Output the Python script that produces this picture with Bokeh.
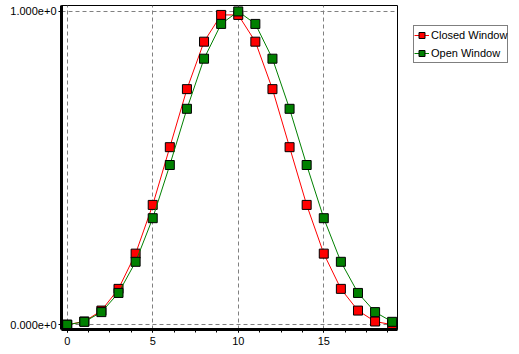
from bokeh.plotting import figure
from bokeh.models import Range1d, SingleIntervalTicker, Legend, LegendItem
from bokeh.embed import file_html
from bokeh.resources import INLINE

# ---- data ----
x_vals = list(range(20))
closed_window = [0.0, 0.0102, 0.0451, 0.1144, 0.2269, 0.3824, 0.5667, 0.7520, 0.9035, 0.9889,
                 0.9889, 0.9035, 0.7520, 0.5667, 0.3824, 0.2269, 0.1144, 0.0451, 0.0102, 0.0]
open_window = [0.0, 0.0092, 0.0402, 0.1014, 0.2008, 0.3400, 0.5098, 0.6892, 0.8492, 0.9602,
               1.0, 0.9602, 0.8492, 0.6892, 0.5098, 0.3400, 0.2008, 0.1014, 0.0402, 0.0092]
series_names = ["Closed Window", "Open Window"]
y_tick_values = [0, 1]
y_tick_labels = ["0.000e+0", "1.000e+0"]

FONT = "Liberation Sans"

p = figure(frame_width=336, frame_height=324, output_backend="svg", toolbar_location=None,
           x_range=Range1d(-0.333, 19.31), y_range=Range1d(-0.0153, 1.019),
           min_border_left=61, min_border_right=122, min_border_top=5, min_border_bottom=25,
           background_fill_color="white", border_fill_color="white")

p.outline_line_color = "black"
p.outline_line_width = 1

# axes
p.xaxis.ticker = SingleIntervalTicker(interval=5, num_minor_ticks=4)
p.yaxis.ticker = SingleIntervalTicker(interval=1, num_minor_ticks=2)
p.yaxis.major_label_overrides = {v: l for v, l in zip(y_tick_values, y_tick_labels)}
for ax in (p.xaxis, p.yaxis):
    ax.axis_line_color = "black"
    ax.axis_line_width = 3
    ax.major_tick_line_color = "black"
    ax.minor_tick_line_color = "black"
    ax.major_tick_in = 0
    ax.minor_tick_in = 0
    ax.major_label_text_font = FONT
    ax.major_label_text_font_size = "11px"
    ax.major_label_text_color = "black"
p.xaxis.major_tick_out = 3
p.xaxis.minor_tick_out = 3
p.xaxis.major_label_standoff = 4
p.yaxis.major_tick_out = 3
p.yaxis.minor_tick_out = 1
p.yaxis.major_label_standoff = 2

for g in (p.xgrid, p.ygrid):
    g.grid_line_color = "#808080"
    g.grid_line_dash = "4 3"
    g.grid_line_width = 1
p.xgrid.ticker = p.xaxis.ticker
p.ygrid.ticker = p.yaxis.ticker

# series
r1l = p.line(x_vals, closed_window, line_color="#ff0000", line_width=1)
r1m = p.scatter(x_vals, closed_window, marker="square", size=9, fill_color="#ff0000",
                line_color="black", line_width=1)
r2l = p.line(x_vals, open_window, line_color="#008000", line_width=1)
r2m = p.scatter(x_vals, open_window, marker="square", size=9, fill_color="#008000",
                line_color="black", line_width=1)

legend = Legend(items=[LegendItem(label=series_names[0], renderers=[r1l, r1m]),
                       LegendItem(label=series_names[1], renderers=[r2l, r2m])],
                location=(16, 266), orientation="vertical",
                label_text_font=FONT, label_text_font_size="11px", label_text_color="black",
                glyph_width=15, glyph_height=18, label_height=18, label_standoff=2,
                padding=0, spacing=0, margin=0,
                border_line_color="black", border_line_width=1,
                background_fill_color="white", background_fill_alpha=1)
p.add_layout(legend, "right")

open("out.html", "w").write(file_html(p, INLINE))
